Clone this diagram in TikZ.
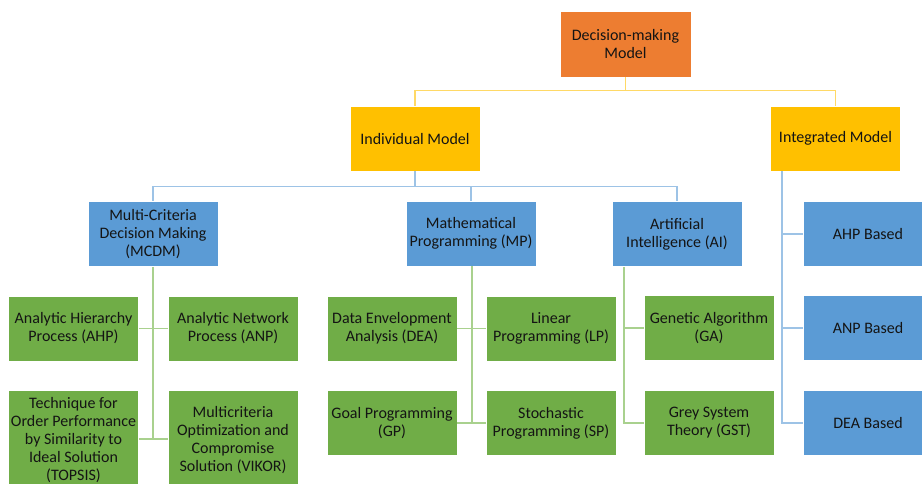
\documentclass[tikz,border=0pt]{standalone}
\usepackage{fontspec}
\setmainfont{Carlito}
\definecolor{boxorange}{HTML}{ED7D31}
\definecolor{boxyellow}{HTML}{FFC000}
\definecolor{boxblue}{HTML}{5B9BD5}
\definecolor{boxgreen}{HTML}{70AD47}
\definecolor{lineyellow}{HTML}{FFD966}
\definecolor{lineblue}{HTML}{9DC3E6}
\definecolor{linegreen}{HTML}{A9D18E}
\definecolor{txt}{HTML}{141414}
\begin{document}
\begin{tikzpicture}[x=1pt,y=1pt,
  box/.style={draw=white,line width=0.8pt,align=center,text=txt,inner sep=2pt,
    font=\fontsize{16}{18}\selectfont,minimum width=130,minimum height=65},
  rootbox/.style={box,fill=boxorange,minimum width=131,minimum height=66},
  ybox/.style={box,fill=boxyellow},
  bbox/.style={box,fill=boxblue},
  gbox/.style={box,fill=boxgreen},
  tallbox/.style={gbox,minimum height=98,text depth=0pt},
  yline/.style={draw=lineyellow,line width=1.8pt},
  bline/.style={draw=lineblue,line width=1.8pt},
  gline/.style={draw=linegreen,line width=1.8pt}]
\useasboundingbox (0,0) rectangle (922,-483);
\clip (0,0) rectangle (922,-483);

% level 0 and 1
\node[rootbox] (top) at (625.5,-44) {Decision-making\\Model};
\node[ybox] (ind) at (415,-138.5) {Individual Model};
\node[ybox] (integ) at (835.5,-138.5) {Integrated Model};

% level 2
\node[bbox] (mcdm) at (153,-234) {Multi-Criteria\\Decision Making\\(MCDM)};
\node[bbox] (mp) at (471,-233.5) {Mathematical\\Programming (MP)};
\node[bbox] (ai) at (677,-234) {Artificial\\Intelligence (AI)};
\node[bbox] (ahpb) at (868,-234) {AHP Based};
\node[bbox] (anpb) at (868,-328) {ANP Based};
\node[bbox] (deab) at (868,-423) {DEA Based};

% level 3
\node[gbox] (ahp) at (73.5,-328.5) {Analytic Hierarchy\\Process (AHP)};
\node[gbox] (anp) at (233,-328.5) {Analytic Network\\Process (ANP)};
\node[tallbox] (topsis) at (73.5,-439) {Technique for\\Order Performance\\by Similarity to\\Ideal Solution\\(TOPSIS)};
\node[tallbox] (vikor) at (233,-439) {Multicriteria\\Optimization and\\Compromise\\Solution (VIKOR)};
\node[gbox] (dea) at (392,-328.5) {Data Envelopment\\Analysis (DEA)};
\node[gbox] (lp) at (551,-328.5) {Linear\\Programming (LP)};
\node[gbox] (gp) at (392,-423) {Goal Programming\\(GP)};
\node[gbox] (sp) at (551,-423) {Stochastic\\Programming (SP)};
\node[gbox] (ga) at (709,-328) {Genetic Algorithm\\(GA)};
\node[gbox] (gst) at (709,-423) {Grey System\\Theory (GST)};

% root to models
\draw[yline] (top.south) -- ++(0,-13) coordinate (yj);
\draw[yline] (yj) -| (ind.north);
\draw[yline] (yj) -| (integ.north);

% individual model to its families
\draw[bline] (ind.south) -- ++(0,-15) coordinate (bj);
\draw[bline] (bj) -| (mcdm.north);
\draw[bline] (bj) -| (mp.north);
\draw[bline] (bj) -| (ai.north);

% integrated model branches
\coordinate (ib) at ([xshift=12pt]integ.south west);
\draw[bline] (ib) -- (ib |- deab.west) -- (deab.west);
\draw[bline] (ib |- ahpb.west) -- (ahpb.west);
\draw[bline] (ib |- anpb.west) -- (anpb.west);

% MCDM methods
\draw[gline] (mcdm.south) -- (mcdm.south |- topsis.east);
\draw[gline] (ahp.east) -- (anp.west);
\draw[gline] (topsis.east) -- (vikor.west);

% MP methods
\draw[gline] ([xshift=1pt]mp.south) -- ([xshift=1pt]mp.south |- gp.east);
\draw[gline] (dea.east) -- (lp.west);
\draw[gline] (gp.east) -- (sp.west);

% AI methods
\coordinate (ab) at ([xshift=12pt]ai.south west);
\draw[gline] (ab) -- (ab |- gst.west) -- (gst.west);
\draw[gline] (ab |- ga.west) -- (ga.west);
\end{tikzpicture}
\end{document}
